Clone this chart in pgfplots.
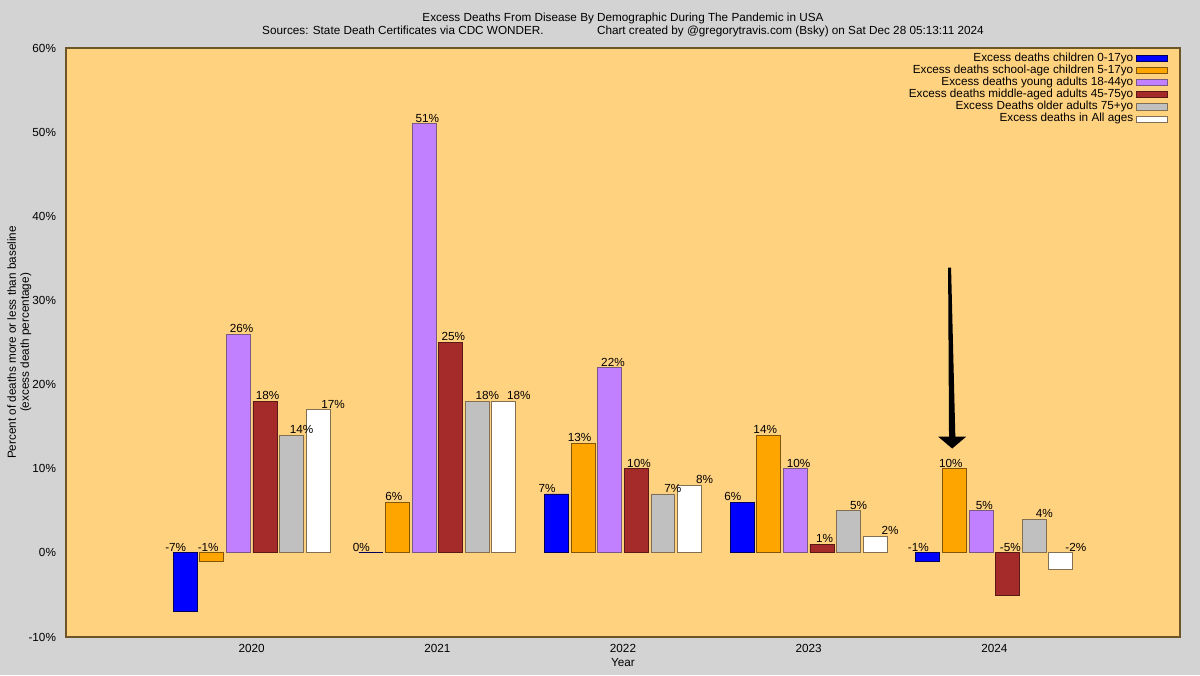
\documentclass[border=0pt]{standalone}
\usepackage{pgfplots}
\pgfplotsset{compat=1.18}
\usepackage{fontspec}
\setmainfont{Liberation Sans}
\definecolor{outerbg}{RGB}{211,211,211}
\definecolor{plotbg}{RGB}{255,210,128}
\definecolor{frame}{RGB}{110,85,40}
\definecolor{cblue}{RGB}{0,0,255}
\definecolor{eblue}{RGB}{0,0,90}
\definecolor{corange}{RGB}{255,165,0}
\definecolor{eorange}{RGB}{130,85,10}
\definecolor{cpurple}{RGB}{192,128,255}
\definecolor{epurple}{RGB}{120,90,130}
\definecolor{cred}{RGB}{165,42,42}
\definecolor{ered}{RGB}{90,25,20}
\definecolor{cgrey}{RGB}{192,192,192}
\definecolor{egrey}{RGB}{130,110,80}
\definecolor{cwhite}{RGB}{255,255,255}
\definecolor{ewhite}{RGB}{130,110,80}
\pgfplotsset{
 lbl/.style={only marks, mark=none, forget plot,
   nodes near coords, point meta=explicit symbolic,
   every node near coord/.append style={anchor=south, inner ysep=1pt, inner xsep=0pt, text=black}},
 br/.style n args={3}{ybar, bar width=0.129, bar shift=#1, fill=#2, draw=#3, line width=0.6pt,
   legend image code/.code={\draw[##1] (0pt,-2.3pt) rectangle (23pt,2.3pt);}},
}
\begin{document}
\begin{tikzpicture}[font=\fontsize{8.8}{9.75}\selectfont]
\useasboundingbox (0,0) rectangle (900pt,506.25pt);
\fill[outerbg] (0,0) rectangle (900pt,506.25pt);
\begin{axis}[
  at={(49.5pt,28.5pt)}, anchor=south west, scale only axis,
  width=835.5pt, height=441.75pt,
  xmin=-1, xmax=5, ymin=-10, ymax=60,
  xtick={0,1,2,3,4}, xticklabels={2020,2021,2022,2023,2024},
  ytick={-10,0,10,20,30,40,50,60},
  yticklabel={\pgfmathprintnumber{\tick}\%},
  /pgf/number format/assume math mode=true,
  major tick length=0pt,
  yticklabel style={xshift=-4pt},
  xticklabel style={yshift=-2pt},
  axis line style={draw=frame, line width=0.8pt},
  axis background/.style={fill=plotbg},
  title={Excess Deaths From Disease By Demographic During The Pandemic in USA\\Sources: State Death Certificates via CDC WONDER.\hspace{40pt}Chart created by @gregorytravis.com (Bsky) on Sat Dec 28 05:13:11 2024},
  title style={align=center, at={(axis description cs:0.5,1)}, anchor=south, yshift=1.75pt, inner sep=0pt},
  xlabel={Year},
  xlabel style={at={(axis description cs:0.5,0)}, anchor=center, yshift=-19.5pt},
  ylabel={Percent of deaths more or less than baseline\\(excess death percentage)},
  ylabel style={align=center, at={(axis description cs:0,0.5)}, anchor=center, yshift=35pt},
  legend cell align=right, legend plot pos=right,
  legend style={at={(axis description cs:1,1)}, anchor=north east, xshift=-9pt, yshift=-3pt,
    draw=none, fill=none, inner sep=0pt, row sep=0pt,
    nodes={inner ysep=0.45pt, inner xsep=2.25pt, text height=6.3pt, text depth=1.9pt}},
]
% value labels (drawn first, bars may cover them)
\addplot[lbl] coordinates {(-0.409,0) [-7\%] (0.591,0) [0\%] (1.591,7) [7\%] (2.591,6) [6\%] (3.591,0) [-1\%]};
\addplot[lbl] coordinates {(-0.234,0) [-1\%] (0.766,6) [6\%] (1.766,13) [13\%] (2.766,14) [14\%] (3.766,10) [10\%]};
\addplot[lbl] coordinates {(-0.054,26) [26\%] (0.946,51) [51\%] (1.946,22) [22\%] (2.946,10) [10\%] (3.946,5) [5\%]};
\addplot[lbl] coordinates {(0.086,18) [18\%] (1.086,25) [25\%] (2.086,10) [10\%] (3.086,1) [1\%] (4.086,0) [-5\%]};
\addplot[lbl] coordinates {(0.269,14) [14\%] (1.269,18) [18\%] (2.269,7) [7\%] (3.269,5) [5\%] (4.269,4) [4\%]};
\addplot[lbl] coordinates {(0.439,17) [17\%] (1.439,18) [18\%] (2.439,8) [8\%] (3.439,2) [2\%] (4.439,0) [-2\%]};
% bars
\addplot[br={-0.358}{cblue}{eblue}] coordinates {(0,-7) (1,0) (2,7) (3,6) (4,-1)};
\addlegendentry{Excess deaths children 0-17yo}
\addplot[br={-0.215}{corange}{eorange}] coordinates {(0,-1) (1,6) (2,13) (3,14) (4,10)};
\addlegendentry{Excess deaths school-age children 5-17yo}
\addplot[br={-0.0716}{cpurple}{epurple}] coordinates {(0,26) (1,51) (2,22) (3,10) (4,5)};
\addlegendentry{Excess deaths young adults 18-44yo}
\addplot[br={0.0716}{cred}{ered}] coordinates {(0,18) (1,25) (2,10) (3,1) (4,-5)};
\addlegendentry{Excess deaths middle-aged adults 45-75yo}
\addplot[br={0.215}{cgrey}{egrey}] coordinates {(0,14) (1,18) (2,7) (3,5) (4,4)};
\addlegendentry{Excess Deaths older adults 75+yo}
\addplot[br={0.358}{cwhite}{ewhite}] coordinates {(0,17) (1,18) (2,8) (3,2) (4,-2)};
\addlegendentry{Excess deaths in All ages}
% annotation arrow
\fill[black] (axis cs:3.751,33.9) -- (axis cs:3.767,33.9) -- (axis cs:3.790,13.8) -- (axis cs:3.848,13.8) -- (axis cs:3.773,12.4) -- (axis cs:3.698,13.8) -- (axis cs:3.756,13.8) -- cycle;
\end{axis}
\end{tikzpicture}
\end{document}
